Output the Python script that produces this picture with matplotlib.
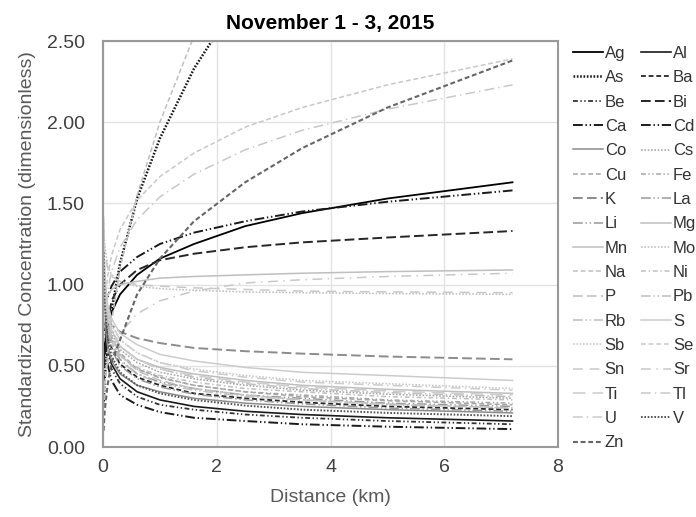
import matplotlib
matplotlib.use("Agg")
import matplotlib.pyplot as plt

plt.rcParams['font.family'] = ['Liberation Sans', 'DejaVu Sans']
plt.rcParams['lines.scale_dashes'] = False

# distance along transect (km)
DIST = [0.01, 0.03, 0.08, 0.15, 0.3, 0.6, 1.0, 1.6, 2.5, 3.5, 5.0, 7.2]

# standardized concentration, one list per element
Ag = [0.52, 0.63, 0.74, 0.83, 0.94, 1.06, 1.16, 1.25, 1.36, 1.44, 1.53, 1.63]
Al = [1.15, 0.83, 0.62, 0.51, 0.42, 0.34, 0.29, 0.25, 0.22, 0.20, 0.18, 0.16]
As = [0.26, 0.42, 0.64, 0.84, 1.13, 1.53, 1.90, 2.33, 2.82, 3.26, 3.80, 4.44]
Ba = [1.19, 0.91, 0.71, 0.61, 0.51, 0.43, 0.38, 0.33, 0.30, 0.275, 0.25, 0.23]
Be = [1.15, 0.81, 0.59, 0.48, 0.39, 0.31, 0.26, 0.23, 0.20, 0.18, 0.16, 0.14]
Bi = [0.40, 0.55, 0.75, 0.90, 1.00, 1.09, 1.15, 1.19, 1.23, 1.26, 1.29, 1.33]
Ca = [0.72, 0.82, 0.92, 0.99, 1.08, 1.17, 1.25, 1.32, 1.39, 1.45, 1.51, 1.58]
Cd = [1.03, 0.71, 0.51, 0.41, 0.32, 0.26, 0.215, 0.18, 0.16, 0.14, 0.125, 0.11]
Co = [1.02, 0.78, 0.62, 0.53, 0.45, 0.38, 0.34, 0.30, 0.27, 0.25, 0.23, 0.21]
Cs = [1.28, 1.00, 0.81, 0.70, 0.60, 0.52, 0.46, 0.42, 0.38, 0.35, 0.325, 0.30]
Cu = [1.35, 1.02, 0.80, 0.68, 0.58, 0.48, 0.43, 0.38, 0.34, 0.31, 0.285, 0.26]
Fe = [1.23, 0.95, 0.76, 0.66, 0.56, 0.48, 0.425, 0.38, 0.34, 0.32, 0.29, 0.27]
K = [0.95, 0.87, 0.80, 0.75, 0.71, 0.67, 0.64, 0.61, 0.59, 0.575, 0.557, 0.54]
La = [1.22, 0.91, 0.71, 0.60, 0.50, 0.42, 0.37, 0.325, 0.29, 0.265, 0.24, 0.22]
Li = [1.21, 0.93, 0.74, 0.63, 0.54, 0.45, 0.40, 0.36, 0.32, 0.30, 0.27, 0.25]
Mg = [0.75, 0.85, 0.93, 0.97, 1.00, 1.02, 1.04, 1.05, 1.06, 1.07, 1.08, 1.09]
Mn = [1.23, 0.99, 0.81, 0.72, 0.62, 0.54, 0.49, 0.45, 0.41, 0.38, 0.355, 0.33]
Mo = [1.40, 1.25, 1.12, 1.06, 1.02, 0.99, 0.975, 0.965, 0.955, 0.95, 0.945, 0.94]
Na = [0.20, 0.35, 0.57, 0.77, 1.10, 1.55, 2.00, 2.53, 3.16, 3.74, 4.47, 5.37]
Ni = [1.15, 0.92, 0.75, 0.65, 0.56, 0.49, 0.44, 0.40, 0.36, 0.34, 0.31, 0.29]
P = [1.42, 1.05, 0.81, 0.68, 0.57, 0.47, 0.41, 0.36, 0.32, 0.29, 0.265, 0.24]
Pb = [1.32, 1.04, 0.83, 0.73, 0.62, 0.54, 0.48, 0.43, 0.39, 0.36, 0.335, 0.31]
Rb = [1.24, 0.94, 0.74, 0.63, 0.53, 0.45, 0.39, 0.35, 0.31, 0.29, 0.26, 0.24]
S = [1.25, 1.04, 0.88, 0.79, 0.70, 0.63, 0.57, 0.53, 0.49, 0.46, 0.44, 0.41]
Sb = [1.26, 1.02, 0.85, 0.75, 0.66, 0.58, 0.52, 0.48, 0.44, 0.41, 0.39, 0.36]
Se = [0.72, 0.88, 1.05, 1.18, 1.34, 1.52, 1.665, 1.81, 1.97, 2.09, 2.23, 2.39]
Sn = [1.35, 1.20, 1.10, 1.05, 1.02, 1.00, 0.99, 0.98, 0.97, 0.96, 0.955, 0.95]
Sr = [0.35, 0.45, 0.52, 0.60, 0.70, 0.82, 0.90, 0.96, 1.01, 1.03, 1.05, 1.07]
Ti = [1.27, 1.01, 0.82, 0.72, 0.62, 0.54, 0.48, 0.44, 0.40, 0.37, 0.345, 0.32]
Tl = [0.65, 0.80, 0.96, 1.08, 1.23, 1.40, 1.54, 1.68, 1.83, 1.95, 2.08, 2.23]
U = [1.31, 1.05, 0.86, 0.76, 0.66, 0.58, 0.52, 0.47, 0.43, 0.40, 0.38, 0.35]
V = [1.20, 0.88, 0.67, 0.56, 0.46, 0.38, 0.33, 0.29, 0.255, 0.23, 0.21, 0.19]
Zn = [0.10, 0.22, 0.38, 0.52, 0.66, 0.94, 1.16, 1.39, 1.63, 1.84, 2.09, 2.38]

SERIES = {
    "Ag": Ag, "Al": Al, "As": As, "Ba": Ba, "Be": Be, "Bi": Bi, "Ca": Ca,
    "Cd": Cd, "Co": Co, "Cs": Cs, "Cu": Cu, "Fe": Fe, "K": K, "La": La,
    "Li": Li, "Mg": Mg, "Mn": Mn, "Mo": Mo, "Na": Na, "Ni": Ni, "P": P,
    "Pb": Pb, "Rb": Rb, "S": S, "Sb": Sb, "Se": Se, "Sn": Sn, "Sr": Sr,
    "Ti": Ti, "Tl": Tl, "U": U, "V": V, "Zn": Zn,
}

# excel-like dash types
SOLID = "-"
DOT = (0, (1.2, 1.2))
DASH = (0, (3.5, 2.0))
DASHDOT = (0, (3.5, 2.0, 1.0, 2.0))
DASHDOTDOT = (0, (3.5, 1.8, 1.0, 1.8, 1.0, 1.8))
LDASH = (0, (7.0, 3.0))
LDASHDOT = (0, (7.0, 3.0, 1.0, 3.0))
LDASHDOTDOT = (0, (7.0, 2.0, 1.0, 2.0, 1.0, 2.0))

STYLE = {
    "Ag": ("#000000", SOLID, 1.3), "Al": ("#1a1a1a", SOLID, 1.2),
    "As": ("#1a1a1a", DOT, 1.8), "Ba": ("#262626", DASH, 1.3),
    "Be": ("#333333", DASHDOTDOT, 1.3), "Bi": ("#262626", LDASH, 1.4),
    "Ca": ("#1a1a1a", LDASHDOTDOT, 1.4), "Cd": ("#1a1a1a", LDASHDOTDOT, 1.4),
    "Co": ("#8c8c8c", SOLID, 1.1), "Cs": ("#a6a6a6", DOT, 1.1),
    "Cu": ("#a6a6a6", DASH, 1.1), "Fe": ("#a6a6a6", DASHDOTDOT, 1.1),
    "K": ("#8c8c8c", LDASH, 1.4), "La": ("#999999", LDASHDOTDOT, 1.1),
    "Li": ("#999999", LDASHDOTDOT, 1.1), "Mg": ("#bfbfbf", SOLID, 1.1),
    "Mn": ("#bfbfbf", SOLID, 1.1), "Mo": ("#bfbfbf", DOT, 1.1),
    "Na": ("#bfbfbf", DASH, 1.1), "Ni": ("#bfbfbf", DASHDOT, 1.1),
    "P": ("#bfbfbf", LDASH, 1.1), "Pb": ("#bfbfbf", LDASHDOTDOT, 1.1),
    "Rb": ("#bfbfbf", LDASHDOTDOT, 1.1), "S": ("#cccccc", SOLID, 1.1),
    "Sb": ("#c8c8c8", DOT, 1.1), "Se": ("#c8c8c8", DASH, 1.1),
    "Sn": ("#c8c8c8", (0, (7.0, 5.0)), 1.1), "Sr": ("#c8c8c8", (0, (7.0, 4.0, 1.0, 4.0)), 1.1),
    "Ti": ("#cccccc", (0, (9.0, 5.0)), 1.1), "Tl": ("#c8c8c8", LDASHDOT, 1.1),
    "U": ("#cccccc", LDASHDOT, 1.1), "V": ("#555555", DOT, 1.4),
    "Zn": ("#666666", DASH, 1.5),
}

fig = plt.figure(figsize=(6.96, 5.17), dpi=100)
ax = fig.add_axes([103 / 696, 1 - 447 / 517, 455 / 696, 406 / 517])

handles = {}
for name, vals in SERIES.items():
    color, ls, lw = STYLE[name]
    (h,) = ax.plot(DIST, vals, color=color, linestyle=ls, linewidth=lw, label=name)
    handles[name] = h

ax.set_xlim(0, 8)
ax.set_ylim(0, 2.5)
ax.set_xticks([0, 2, 4, 6, 8])
ax.set_yticks([0, 0.5, 1.0, 1.5, 2.0, 2.5])
ax.set_yticklabels([f"{v:.2f}" for v in ax.get_yticks()])
ax.grid(True, color="#e3e3e3", linewidth=1.0)
ax.set_axisbelow(True)
for sp in ax.spines.values():
    sp.set_color("#999999")
    sp.set_linewidth(1.5)
ax.tick_params(length=0, labelsize=14, colors="#404040")
ax.tick_params(axis="y", pad=13)
ax.tick_params(axis="x", pad=9)

ax.set_xlabel("Distance (km)", fontsize=14, color="#595959", labelpad=9)
ax.set_ylabel("Standardized Concentration (dimensionless)", fontsize=14,
              color="#595959", labelpad=8)
ax.set_title("November 1 - 3, 2015", fontsize=15, fontweight="bold",
             color="#000000", pad=9)

# excel lists the legend row by row, matplotlib fills columns
names = list(SERIES.keys())
order = names[0::2] + names[1::2]
leg = fig.legend([handles[n] for n in order], order, ncol=2,
                 loc="upper left", bbox_to_anchor=(573 / 696, 1 - 46 / 517),
                 frameon=False, fontsize=12, handlelength=1.8,
                 handletextpad=0.1, columnspacing=0.8, labelspacing=0.56,
                 borderpad=0, borderaxespad=0)
for t in leg.get_texts():
    t.set_color("#333333")

fig.savefig("out.png", dpi=100)
